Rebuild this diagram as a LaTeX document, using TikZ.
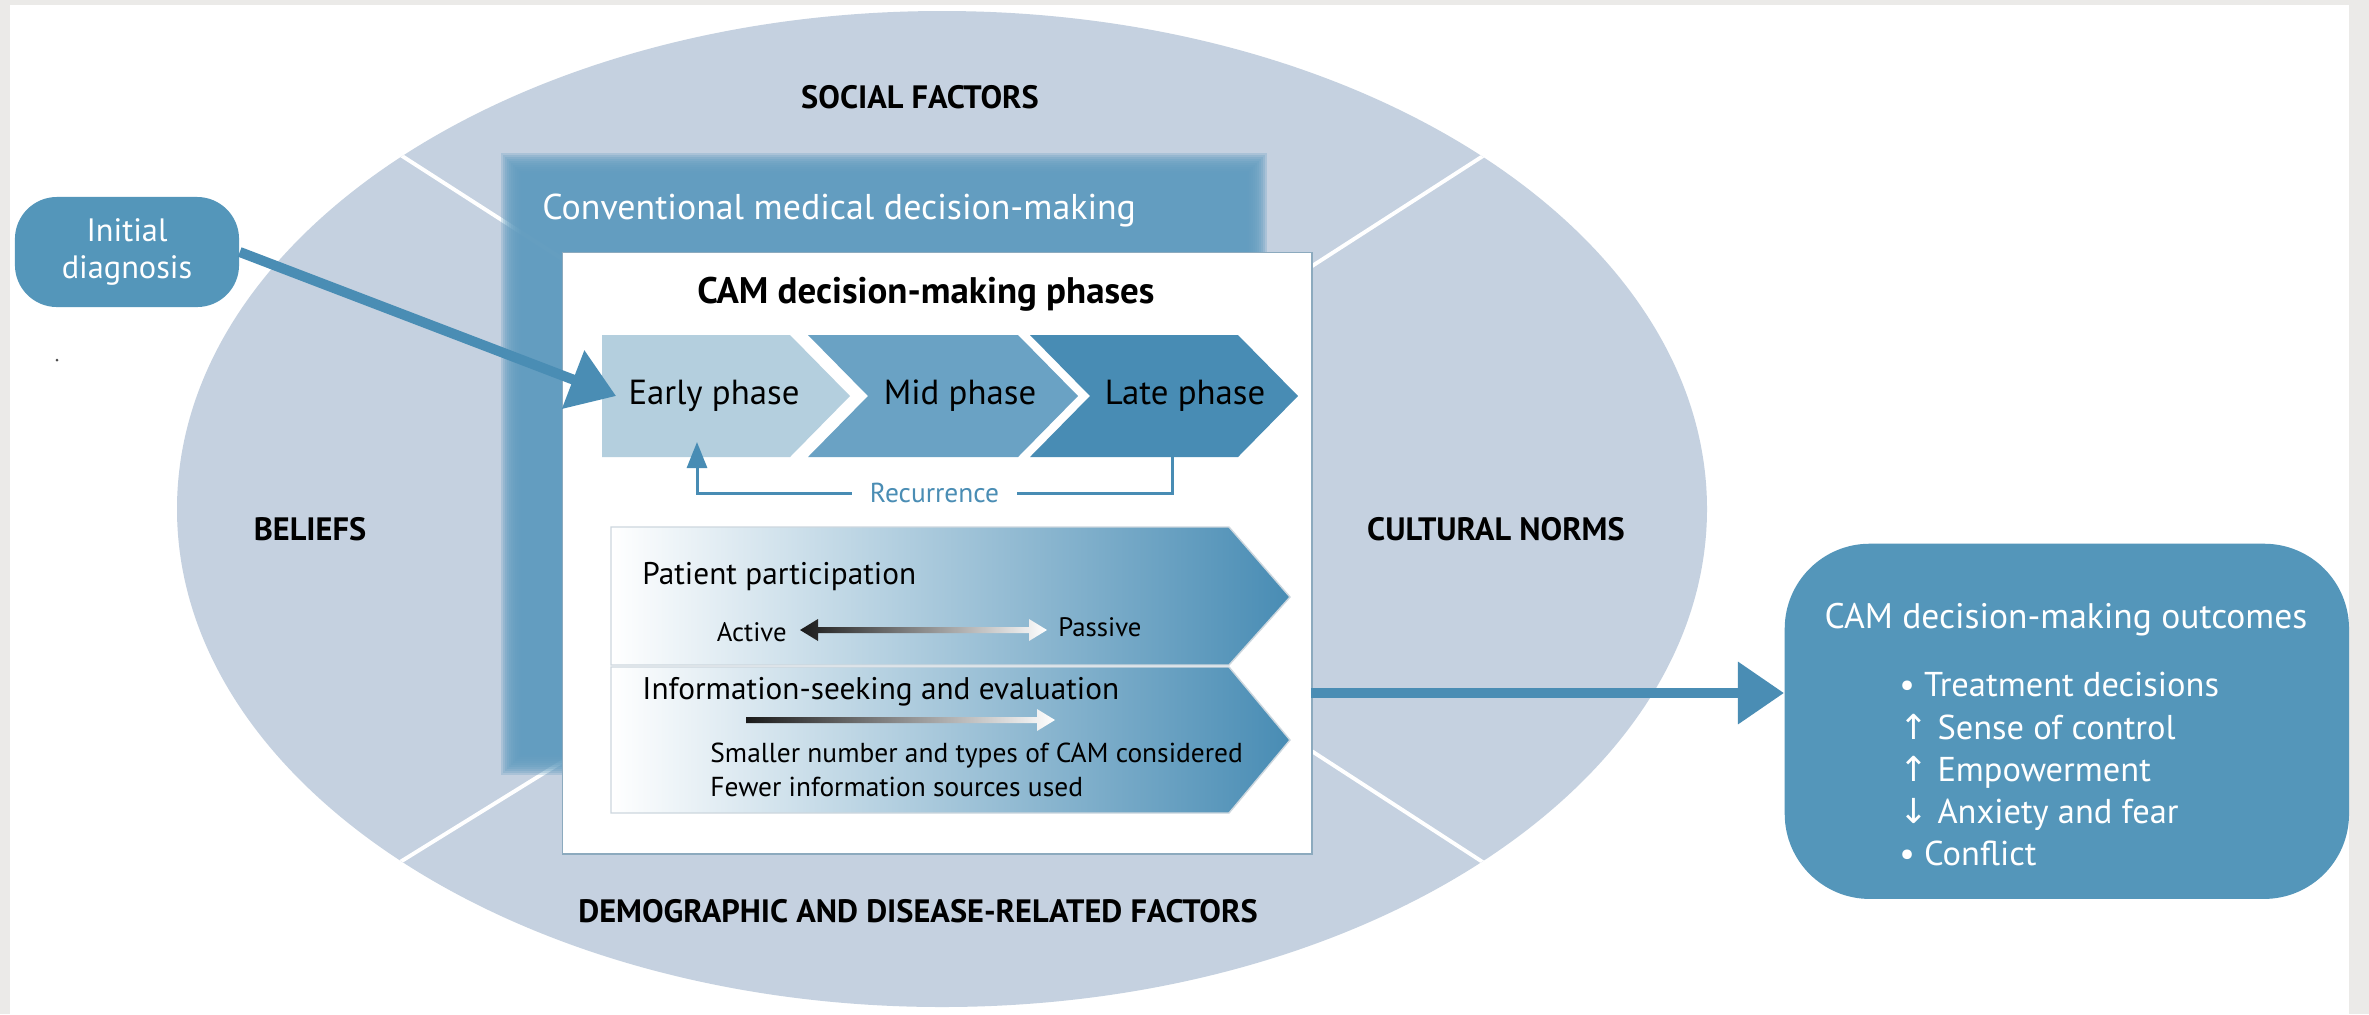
\documentclass[tikz,border=0pt]{standalone}
\usepackage{fontspec}
\setmainfont{PT Sans}
\newfontfamily\symfont{DejaVu Sans}
\usetikzlibrary{arrows.meta,positioning}
\definecolor{framegray}{RGB}{235,234,232}
\definecolor{ovalbg}{RGB}{197,209,224}
\definecolor{convblue}{RGB}{98,157,192}
\definecolor{earlyc}{RGB}{180,207,222}
\definecolor{midc}{RGB}{106,162,196}
\definecolor{latec}{RGB}{72,140,180}
\definecolor{boxblue}{RGB}{84,150,186}
\definecolor{arrblue}{RGB}{74,141,180}
\definecolor{boxedge}{RGB}{140,170,190}
\definecolor{panelline}{RGB}{205,215,222}
\begin{document}
\begin{tikzpicture}[x=0.01cm,y=-0.01cm,
    lbl/.style={font=\fontsize{9.2}{10}\selectfont\bfseries},
    phase/.style={font=\fontsize{9.9}{11}\selectfont},
    small/.style={font=\fontsize{7.8}{9.7}\selectfont},
    bigarrow/.style={arrblue, line width=2.85pt, -{Triangle[length=0.46cm,width=0.6cm]}},
    recarrow/.style={latec, line width=0.85pt, -{Triangle[length=0.26cm,width=0.2cm]}}]
  \useasboundingbox (0,0) rectangle (2369,1014);
  \fill[framegray] (0,0) rectangle (2369,1014);
  \fill[white] (10,5) rectangle (2349,1014);
  \fill[black!70] (57,360) circle[radius=1.5];

  % factors oval
  \fill[ovalbg] (942,509) ellipse [x radius=765, y radius=498];
  \begin{scope}
    \clip (942,509) ellipse [x radius=765, y radius=498];
    \draw[white, line width=1.1pt] (620,296) -- (248,57);
    \draw[white, line width=1.1pt] (1250,306) -- (1646,51);
    \draw[white, line width=1.1pt] (620,726) -- (248,956);
    \draw[white, line width=1.1pt] (1250,711) -- (1646,968);
  \end{scope}
  \node[lbl] (social) at (920,97) {SOCIAL FACTORS};
  \node[lbl] (beliefs) at (310,529) {BELIEFS};
  \node[lbl] (cultural) at (1496,529) {CULTURAL NORMS};
  \node[lbl] (demo) at (918,911) {DEMOGRAPHIC AND DISEASE-RELATED FACTORS};

  % conventional decision-making, soft edged
  \foreach \d in {-10,-8,...,10}
    \fill[convblue, opacity=0.27] (511+\d,163+\d) rectangle (1257-\d,765-\d);
  \node[anchor=west, text=white, font=\fontsize{10.2}{11}\selectfont] (conv) at (530,211) {Conventional medical decision-making};

  % CAM phases
  \node[draw=boxedge, fill=white, line width=0.4pt, inner sep=0, minimum width=7.49cm, minimum height=6.01cm, anchor=north west] (phases) at (562,252) {};
  \node[font=\fontsize{10.5}{12}\selectfont\bfseries] (ptitle) at (926,294) {CAM decision-making phases};
  \foreach \l/\r/\n/\c/\tx/\t [count=\i] in {602/790/0/earlyc/714/Early phase, 808/1018/60/midc/960/Mid phase, 1030/1238/60/latec/1185/Late phase} {
    \fill[\c] (\l,335) -- (\r,335) -- (\r+60,396) -- (\r,457) -- (\l,457) -- (\l+\n,396) -- cycle;
    \node[phase] (ph\i) at (\tx,396) {\t};
  }
  \coordinate (recA) at (1172,457);
  \coordinate (recB) at (697,442);
  \draw[recarrow] (recA) -- ++(0,36) -| node[pos=0.25, fill=white, text=arrblue, small, inner xsep=5pt] (recur) {Recurrence} (recB);

  % participation and information panels
  \shade[left color=white, right color=latec, draw=panelline, line width=0.4pt] (611,527) -- (1229,527) -- (1290,597) -- (1229,665) -- (611,665) -- cycle;
  \shade[left color=white, right color=latec, draw=panelline, line width=0.4pt] (611,667) -- (1229,667) -- (1290,740) -- (1229,813) -- (611,813) -- cycle;
  \node[anchor=west, font=\fontsize{8.9}{10}\selectfont] (partic) at (630,577) {Patient participation};
  \node[anchor=east, font=\fontsize{7.6}{9}\selectfont] (active) at (799,632) {Active};
  \node[anchor=west, font=\fontsize{7.6}{9}\selectfont] (passive) at (1046,627) {Passive};
  \shade[left color=black!90, right color=white] (800,630) -- (818,619) -- (818,627) -- (1029,627) -- (1029,619) -- (1047,630) -- (1029,641) -- (1029,633) -- (818,633) -- (818,641) -- cycle;
  \node[anchor=west, font=\fontsize{8.9}{10}\selectfont] (info) at (630,692) {Information-seeking and evaluation};
  \shade[left color=black!90, right color=white] (746,717) -- (1037,717) -- (1037,709) -- (1055,720) -- (1037,731) -- (1037,723) -- (746,723) -- cycle;
  \node[anchor=west, align=left, small] (fewer) at (698,770) {Smaller number and types of CAM considered\\Fewer information sources used};

  % entry and outcomes
  \node[fill=boxblue, rounded corners=0.42cm, minimum width=2.24cm, minimum height=1.1cm, text=white, align=center, font=\fontsize{9.2}{10.6}\selectfont] (init) at (127,252) {Initial\\diagnosis};
  \draw[bigarrow] (init.east) -- (ph1.west);
  \node[fill=boxblue, rounded corners=0.85cm, minimum width=5.64cm, minimum height=3.55cm, anchor=north west] (outc) at (1784,543) {};
  \node[text=white, font=\fontsize{10.1}{12}\selectfont] (outt) at (2066,620) {CAM decision-making outcomes};
  \node[text=white, anchor=north west, align=left, font=\fontsize{9.8}{12}\selectfont] (outl) at (1887,660) {• Treatment decisions\\{\symfont ↑} Sense of control\\{\symfont ↑} Empowerment\\{\symfont ↓} Anxiety and fear\\• Conflict};
  \coordinate (outA) at (1311,693);
  \draw[bigarrow] (outA) -- (outA -| outc.west);
\end{tikzpicture}
\end{document}
